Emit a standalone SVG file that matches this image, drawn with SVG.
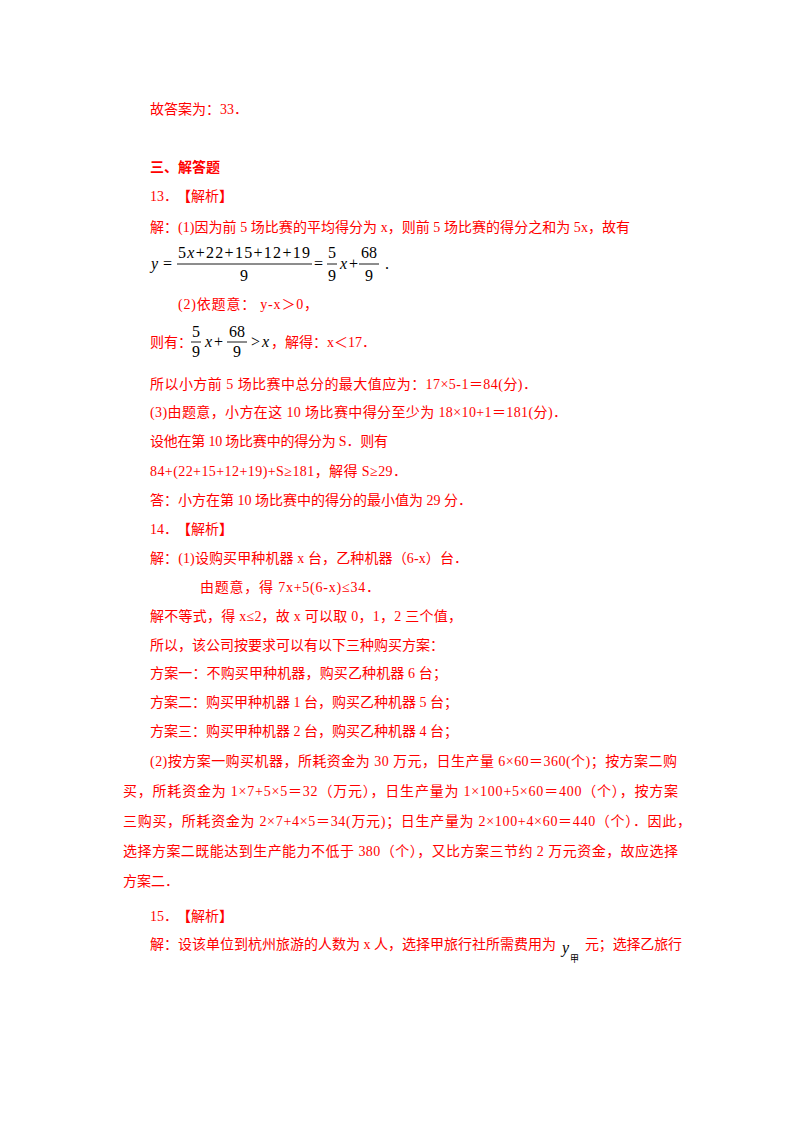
<svg xmlns="http://www.w3.org/2000/svg" width="800" height="1132" viewBox="0 0 800 1132">
<style>
.t{font-family:"Liberation Serif","Noto Sans CJK SC",serif;font-size:14px;fill:#ff0000}
.b{font-weight:bold}
.m{font-family:"Liberation Serif","Noto Sans CJK SC",serif;font-size:16px;fill:#000}
.i{font-style:italic}
.c{text-anchor:middle}
.bar{stroke:#000;stroke-width:0.9}
</style>
<rect width="800" height="1132" fill="#fff"/>
<g id="prev">
<text class="t" x="150" y="114">故答案为：33．</text>
</g>
<g id="heading">
<text class="t b" x="150" y="172">三、解答题</text>
</g>
<g id="q13">
<text class="t" x="150" y="201">13．<tspan x="177" class="b">【</tspan>解析<tspan class="b">】</tspan></text>
<text class="t" x="150" y="232" textLength="480" lengthAdjust="spacing">解：(1)因为前 5 场比赛的平均得分为 x，则前 5 场比赛的得分之和为 5x，故有</text>
<g id="formula1">
<text class="m i" x="151" y="269">y</text>
<text class="m" x="163" y="269">=</text>
<text class="m" x="178" y="258" textLength="132" lengthAdjust="spacing">5<tspan class="i">x</tspan>+22+15+12+19</text>
<line class="bar" x1="177" y1="264" x2="312" y2="264"/>
<text class="m c" x="244" y="281">9</text>
<text class="m" x="314" y="269">=</text>
<text class="m c" x="332" y="258">5</text>
<line class="bar" x1="327" y1="264" x2="337" y2="264"/>
<text class="m c" x="332" y="281">9</text>
<text class="m i" x="340" y="269">x</text>
<text class="m" x="349" y="269">+</text>
<text class="m c" x="369" y="258">68</text>
<line class="bar" x1="359" y1="264" x2="379" y2="264"/>
<text class="m c" x="369" y="281">9</text>
<text class="m" x="385" y="269">.</text>
</g>
<text class="t" x="178" y="309" textLength="140" lengthAdjust="spacing">(2)依题意：  y-x＞0，</text>
<g id="formula2">
<text class="t" x="150" y="347">则有：</text>
<text class="m c" x="196" y="337">5</text>
<line class="bar" x1="191" y1="342" x2="201" y2="342"/>
<text class="m c" x="196" y="357">9</text>
<text class="m i" x="205" y="347">x</text>
<text class="m" x="214" y="347">+</text>
<text class="m c" x="237" y="337">68</text>
<line class="bar" x1="227" y1="342" x2="247" y2="342"/>
<text class="m c" x="237" y="357">9</text>
<text class="m" x="251" y="347">&gt;</text>
<text class="m i" x="262" y="347">x</text>
<text class="t" x="271" y="347">，解得：x＜17．</text>
</g>
<text class="t" x="150" y="389" textLength="387" lengthAdjust="spacing">所以小方前 5 场比赛中总分的最大值应为：17×5-1＝84(分)．</text>
<text class="t" x="150" y="417" textLength="417" lengthAdjust="spacing">(3)由题意，小方在这 10 场比赛中得分至少为 18×10+1＝181(分)．</text>
<text class="t" x="150" y="446" textLength="238" lengthAdjust="spacing">设他在第 10 场比赛中的得分为 S．则有</text>
<text class="t" x="150" y="476" textLength="257" lengthAdjust="spacing">84+(22+15+12+19)+S≥181，解得 S≥29．</text>
<text class="t" x="150" y="505" textLength="322" lengthAdjust="spacing">答：小方在第 10 场比赛中的得分的最小值为 29 分．</text>
</g>
<g id="q14">
<text class="t" x="150" y="534">14．<tspan x="177" class="b">【</tspan>解析<tspan class="b">】</tspan></text>
<text class="t" x="150" y="563" textLength="318" lengthAdjust="spacing">解：(1)设购买甲种机器 x 台，乙种机器（6-x）台．</text>
<text class="t" x="200" y="592" textLength="180" lengthAdjust="spacing">由题意，得 7x+5(6-x)≤34．</text>
<text class="t" x="150" y="621" textLength="312" lengthAdjust="spacing">解不等式，得 x≤2，故 x 可以取 0，1，2 三个值，</text>
<text class="t" x="150" y="650">所以，该公司按要求可以有以下三种购买方案：</text>
<text class="t" x="150" y="678" textLength="297" lengthAdjust="spacing">方案一：不购买甲种机器，购买乙种机器 6 台；</text>
<text class="t" x="150" y="707" textLength="308" lengthAdjust="spacing">方案二：购买甲种机器 1 台，购买乙种机器 5 台；</text>
<text class="t" x="150" y="736" textLength="308" lengthAdjust="spacing">方案三：购买甲种机器 2 台，购买乙种机器 4 台；</text>
<text class="t" x="150" y="766" textLength="527" lengthAdjust="spacing">(2)按方案一购买机器，所耗资金为 30 万元，日生产量 6×60＝360(个)；按方案二购</text>
<text class="t" x="123" y="796" textLength="555" lengthAdjust="spacing">买，所耗资金为 1×7+5×5＝32（万元），日生产量为 1×100+5×60＝400（个），按方案</text>
<text class="t" x="123" y="826" textLength="568" lengthAdjust="spacing">三购买，所耗资金为 2×7+4×5＝34(万元)；日生产量为 2×100+4×60＝440（个）．因此，</text>
<text class="t" x="123" y="856" textLength="555" lengthAdjust="spacing">选择方案二既能达到生产能力不低于 380（个），又比方案三节约 2 万元资金，故应选择</text>
<text class="t" x="123" y="886">方案二．</text>
</g>
<g id="q15">
<text class="t" x="150" y="921">15．<tspan x="177" class="b">【</tspan>解析<tspan class="b">】</tspan></text>
<text class="t" x="150" y="949" textLength="406" lengthAdjust="spacing">解：设该单位到杭州旅游的人数为 x 人，选择甲旅行社所需费用为</text>
<text class="m i" x="562" y="953">y</text>
<text x="570" y="962" style="font-family:'Noto Sans CJK SC',sans-serif;font-size:9px;fill:#000">甲</text>
<text class="t" x="585" y="949" textLength="97" lengthAdjust="spacing">元；选择乙旅行</text>
</g>
</svg>
